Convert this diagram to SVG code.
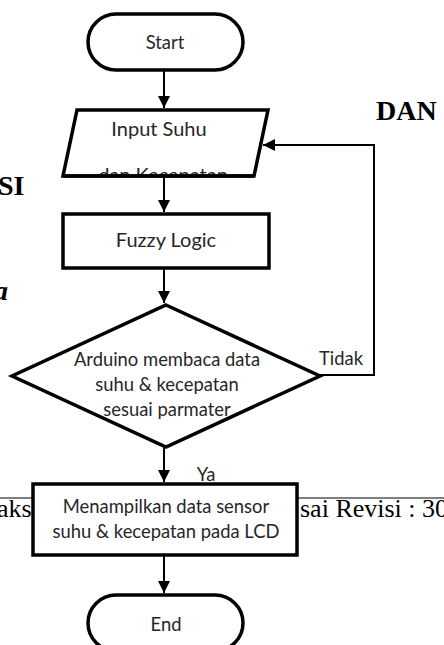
<svg xmlns="http://www.w3.org/2000/svg" width="444" height="645" viewBox="0 0 444 645">
<style>
.shape{fill:#fff;stroke:#000;stroke-width:3.5;stroke-linejoin:miter}
.lbl{font-family:Lato,"Open Sans",sans-serif;font-size:18.4px;fill:#262626;text-anchor:middle}
.big{font-size:20px}
.bg{font-family:"Liberation Serif","Times New Roman",serif;fill:#000}
.bgb{font-family:"Liberation Serif","Times New Roman",serif;font-weight:bold;fill:#000;font-size:28px}
.conn{fill:none;stroke:#000;stroke-width:2}
</style>
<defs>
<marker id="ah" markerUnits="userSpaceOnUse" markerWidth="12" markerHeight="12" viewBox="0 0 12 12" refX="12" refY="6" orient="auto">
<path d="M0,0 L12,6 L0,12 Z" fill="#000"/>
</marker>
<clipPath id="pclip"><rect x="0" y="100" width="444" height="75"/></clipPath>
</defs>
<g id="background">
<text class="bgb" x="376" y="120">DAN</text>
<text class="bgb" x="-2" y="195" font-size="32">SI</text>
<text class="bgb" x="-6" y="300" font-style="italic">a</text>
<line x1="0" y1="498" x2="444" y2="498" stroke="#000" stroke-width="1"/>
<text class="bg" x="-3" y="517" font-size="26">aks</text>
<text class="bg" x="300" y="517" font-size="26">sai Revisi : 30</text>
</g>
<g id="connectors">
<line class="conn" x1="164" y1="70" x2="164" y2="108" marker-end="url(#ah)"/>
<line class="conn" x1="164" y1="177" x2="164" y2="212" marker-end="url(#ah)"/>
<line class="conn" x1="164" y1="268" x2="164" y2="303" marker-end="url(#ah)"/>
<line class="conn" x1="164" y1="447" x2="164" y2="482" marker-end="url(#ah)"/>
<line class="conn" x1="164" y1="556" x2="164" y2="593" marker-end="url(#ah)"/>
<polyline class="conn" stroke-width="1.5" points="320,375 374,375 374,145 263,145" marker-end="url(#ah)"/>
<text class="lbl" x="341" y="365">Tidak</text>
<text class="lbl" x="206" y="481">Ya</text>
</g>
<g id="start">
<rect class="shape" x="88" y="14" width="155" height="56" rx="28"/>
<text class="lbl" x="165" y="49" font-size="15">Start</text>
</g>
<g id="input">
<polygon class="shape" points="77,110 268,110 254,176 63,176"/>
<text class="lbl big" x="159" y="136">Input Suhu</text>
<text class="lbl big" x="163" y="182" clip-path="url(#pclip)">dan Kecepatan</text>
<line x1="63" y1="176" x2="254" y2="176" stroke="#000" stroke-width="3.5"/>
</g>
<g id="fuzzy">
<rect class="shape" x="63" y="214" width="206" height="54"/>
<text class="lbl big" x="166" y="247">Fuzzy Logic</text>
</g>
<g id="decision">
<polygon class="shape" stroke-width="4" points="166,305 320,376 166,447 12,376"/>
<text class="lbl" x="167" y="366">Arduino membaca data</text>
<text class="lbl" x="167" y="391">suhu &amp; kecepatan</text>
<text class="lbl" x="167" y="416">sesuai parmater</text>
</g>
<g id="display">
<rect class="shape" stroke-width="4" x="33" y="484" width="264" height="71"/>
<text class="lbl" x="166" y="513">Menampilkan data sensor</text>
<text class="lbl" x="166" y="538">suhu &amp; kecepatan pada LCD</text>
</g>
<g id="end">
<rect class="shape" x="88" y="595" width="155" height="56" rx="28"/>
<text class="lbl" x="166" y="631" font-size="15">End</text>
</g>
</svg>
